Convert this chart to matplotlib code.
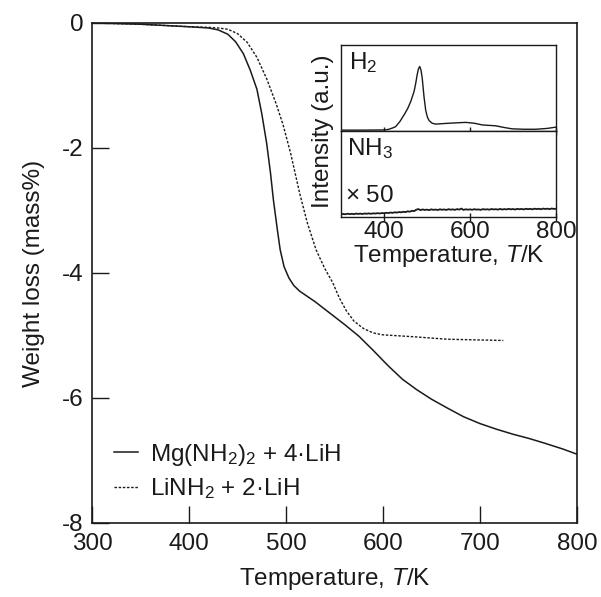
import numpy as np
import matplotlib
matplotlib.use("Agg")
import matplotlib.pyplot as plt

plt.rcParams['font.family'] = ['Liberation Sans', 'DejaVu Sans']
plt.rcParams['mathtext.fontset'] = 'custom'
plt.rcParams['mathtext.rm'] = 'Liberation Sans'
plt.rcParams['mathtext.it'] = 'Liberation Sans:italic'
plt.rcParams['mathtext.bf'] = 'Liberation Sans:bold'

# ---- main TG data ----
mg_T = [300, 350, 400, 420, 430, 440, 448, 456, 463, 470, 475, 480, 484, 487,
        491, 494, 498, 503, 508, 514, 530, 545, 560, 575, 590, 605, 620, 635,
        650, 665, 683, 700, 717, 734, 751, 768, 786, 800]
mg_w = [0, -0.02, -0.06, -0.08, -0.11, -0.18, -0.30, -0.49, -0.75, -1.06, -1.45,
        -1.92, -2.40, -2.83, -3.30, -3.63, -3.90, -4.08, -4.20, -4.29, -4.46,
        -4.64, -4.82, -5.01, -5.24, -5.48, -5.70, -5.87, -6.02, -6.15, -6.30,
        -6.41, -6.50, -6.58, -6.65, -6.73, -6.82, -6.90]

li_T = [300, 350, 400, 420, 430, 440, 450, 460, 470, 480, 490, 497, 505, 514,
        522, 531, 540, 548, 555, 562, 570, 580, 590, 600, 631, 666, 724]
li_w = [0, -0.02, -0.06, -0.07, -0.08, -0.10, -0.17, -0.31, -0.55, -0.89, -1.30,
        -1.63, -2.10, -2.72, -3.20, -3.63, -3.93, -4.15, -4.40, -4.60, -4.77,
        -4.89, -4.96, -4.99, -5.02, -5.06, -5.08]

labels = ['Mg(NH$_2$)$_2$ + 4·LiH', 'LiNH$_2$ + 2·LiH']
x_ticks = [300, 400, 500, 600, 700, 800]
y_ticks = [0, -2, -4, -6, -8]

# ---- inset MS data ----
h2_T = [300, 350, 400, 410, 420, 427, 437, 447, 455, 462, 470, 474, 477, 480,
        483, 486, 489, 493, 497, 501, 505, 512, 520, 535, 551, 570, 590, 610,
        629, 660, 680, 698, 725, 753, 780, 800]
h2_v = [0.01, 0.01, 0.012, 0.018, 0.035, 0.05, 0.11, 0.19, 0.26, 0.34, 0.46,
        0.56, 0.65, 0.72, 0.75, 0.71, 0.61, 0.40, 0.24, 0.16, 0.12, 0.09, 0.08,
        0.085, 0.09, 0.095, 0.10, 0.09, 0.07, 0.06, 0.04, 0.025, 0.02, 0.02,
        0.03, 0.045]

nh3_T = list(range(300, 805, 5))
nh3_v = [0.030, 0.036, 0.032, 0.038, 0.034, 0.037, 0.033, 0.040, 0.036, 0.039,
         0.035, 0.041, 0.038, 0.042, 0.037, 0.043, 0.040, 0.045, 0.041, 0.046,
         0.044, 0.049, 0.046, 0.052, 0.048, 0.055, 0.051, 0.058, 0.054, 0.061,
         0.057, 0.066, 0.062, 0.072, 0.068, 0.085, 0.092, 0.080, 0.088, 0.082,
         0.086, 0.080, 0.089, 0.083, 0.087, 0.081, 0.090, 0.084, 0.088, 0.082,
         0.091, 0.085, 0.089, 0.083, 0.092, 0.086, 0.098, 0.082, 0.090, 0.085,
         0.089, 0.084, 0.091, 0.086, 0.088, 0.083, 0.092, 0.087, 0.090, 0.085,
         0.093, 0.088, 0.091, 0.086, 0.094, 0.087, 0.092, 0.088, 0.095, 0.089,
         0.093, 0.087, 0.095, 0.090, 0.094, 0.088, 0.096, 0.091, 0.095, 0.089,
         0.097, 0.092, 0.096, 0.090, 0.098, 0.093, 0.097, 0.091, 0.099, 0.094,
         0.096]
inset_ticks = [400, 600, 800]

C = '#1a1a1a'
FS = 17.5

fig = plt.figure(figsize=(6.01, 5.97), dpi=100)
ax = fig.add_axes([0.1531, 0.1240, 0.807, 0.8375])
ax.plot(mg_T, mg_w, color=C, lw=1.1, label=labels[0])
ax.plot(li_T, li_w, color=C, lw=1.0, ls=(0, (1.8, 1.2)), label=labels[1])
ax.set_xlim(300, 800)
ax.set_ylim(-8, 0)
ax.set_xticks(x_ticks)
ax.set_yticks(y_ticks)
ax.set_yticklabels([str(v) for v in y_ticks])
ax.tick_params(direction='in', length=12, width=1, labelsize=FS, colors=C)
ax.tick_params(axis='x', pad=7)
ax.tick_params(axis='y', pad=6)
for s in ax.spines.values():
    s.set_linewidth(1.2)
    s.set_color(C)
ax.set_xlabel('Temperature, $T$/K', fontsize=FS, color=C, labelpad=8)
ax.set_ylabel('Weight loss (mass%)', fontsize=FS, color=C, labelpad=12)
leg = ax.legend(loc='lower left', bbox_to_anchor=(0.0, 0.0), frameon=False,
                fontsize=FS, handlelength=1.0, handletextpad=0.5,
                labelspacing=0.35, borderaxespad=0.5)
for t in leg.get_texts():
    t.set_color(C)

# ---- inset ----
L, W = 0.5674, 0.3577
ax1 = fig.add_axes([L, 0.7806, W, 0.1441])
ax2 = fig.add_axes([L, 0.6365, W, 0.1441], sharex=ax1)
ax1.plot(h2_T, h2_v, color=C, lw=1.0)
ax2.plot(nh3_T, nh3_v, color=C, lw=1.3)
for a in (ax1, ax2):
    a.set_xlim(300, 800)
    a.set_ylim(0, 1)
    a.set_yticks([])
    a.set_xticks(inset_ticks)
    a.tick_params(direction='inout', length=6, width=1, labelsize=FS, colors=C, pad=0)
    for s in a.spines.values():
        s.set_linewidth(1.0)
        s.set_color(C)
ax1.tick_params(labelbottom=False)
ax1.text(0.035, 0.94, 'H$_2$', transform=ax1.transAxes, fontsize=FS, color=C,
         va='top', ha='left')
ax2.text(0.03, 0.94, 'NH$_3$', transform=ax2.transAxes, fontsize=FS, color=C,
         va='top', ha='left')
ax2.text(0.02, 0.12, '$\\times$ 50', transform=ax2.transAxes, fontsize=FS, color=C,
         va='bottom', ha='left')
ax2.set_xlabel('Temperature, $T$/K', fontsize=FS, color=C, labelpad=0)
fig.text(0.537, 0.7806, 'Intensity (a.u.)', rotation=90, fontsize=FS, color=C,
         ha='center', va='center')

fig.savefig('out.png', dpi=100)
